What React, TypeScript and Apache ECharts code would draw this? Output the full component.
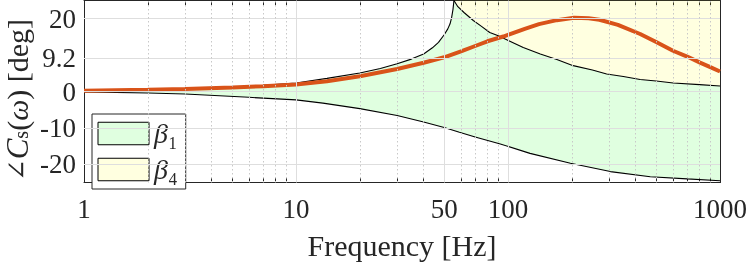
import React, { useEffect, useRef } from 'react';
import * as echarts from 'echarts';

// ---- data ----
const xTickLabels = [1, 10, 50, 100, 1000];
const xMajorGrid = [10, 50, 100];
const xMinorGrid = [2, 3, 4, 5, 6, 7, 8, 9, 20, 30, 40, 60, 70, 80, 90, 200, 300, 400, 500, 600, 700, 800, 900];
const xAllTicks = [1, 2, 3, 4, 5, 6, 7, 8, 9, 10, 20, 30, 40, 50, 60, 70, 80, 90, 100, 200, 300, 400, 500, 600, 700, 800, 900, 1000];
const yTickValues = [-20, -10, 0, 9.2, 20];
const Y_MIN = -25;
const Y_MAX = 25;
const legendNames = ['β₁', 'β₄'];

// orange phase curve
const freqOrange = [1, 2, 3, 5, 7, 10, 14, 20, 30, 40, 50, 60, 70, 80, 95, 120, 140, 170, 205, 240, 270, 330, 420, 500, 600, 700, 800, 900, 1000];
const phaseOrange = [0.2, 0.45, 0.7, 1.1, 1.45, 1.9, 2.8, 4.2, 6.2, 7.9, 9.4, 11.0, 12.5, 13.8, 15.1, 17.2, 18.5, 19.6, 20.25, 20.1, 19.7, 18.3, 15.8, 13.6, 11.2, 9.6, 8.0, 6.7, 5.5];

// beta1 upper bound (up to the singularity)
const freqUpper = [1, 2, 3, 5, 7, 10, 14, 20, 25, 30, 35, 40, 44, 47, 50, 52, 53.3, 54.2, 55.0, 55.6];
const phaseUpper = [0.1, 0.45, 0.75, 1.25, 1.7, 2.35, 3.6, 5.1, 6.3, 7.6, 8.9, 10.3, 12.0, 13.5, 15.6, 17.2, 18.6, 20.3, 22.5, 25];

// beta1 lower bound
const freqLower = [1, 2, 3, 6, 10, 13.4, 20, 30, 40, 50, 59, 70, 92, 127, 197, 304, 469, 700, 1000];
const phaseLower = [-0.1, -0.4, -0.7, -1.6, -2.3, -3.2, -4.7, -6.6, -8.4, -9.9, -11.2, -12.5, -14.4, -17.0, -19.7, -22.0, -23.4, -24.0, -24.5];

// boundary between beta1 and beta4 (after the singularity)
const freqDesc = [55.6, 58, 62, 68.6, 75, 82, 90, 97, 118, 142, 170, 203, 250, 292, 350, 420, 500, 602, 800, 1000];
const phaseDesc = [25, 23.3, 21.7, 19.5, 17.9, 16.2, 15.3, 14.4, 12.1, 10.3, 8.8, 7.1, 5.9, 4.8, 4.1, 3.3, 2.9, 2.35, 1.9, 1.5];

const zip = (f: number[], p: number[]) => f.map((x, i) => [x, p[i]]);

const SERIF = '"Liberation Serif", "Times New Roman", "DejaVu Serif", serif';
const AX = '#262626';

export default function App() {
  const ref = useRef<HTMLDivElement>(null);

  useEffect(() => {
    if (!ref.current) return;
    const chart = echarts.init(ref.current, null, { renderer: 'svg' });

    const upper = zip(freqUpper, phaseUpper);
    const lower = zip(freqLower, phaseLower);
    const desc = zip(freqDesc, phaseDesc);
    const orange = zip(freqOrange, phaseOrange);

    const greenPoly = [...lower, ...desc.slice().reverse(), ...upper.slice().reverse()];
    const yellowPoly = [...desc, [freqDesc[freqDesc.length - 1], Y_MAX], [freqDesc[0], Y_MAX]];

    const polySeries = (name: string, poly: number[][], fill: string) => ({
      name,
      type: 'custom',
      z: 1,
      silent: true,
      itemStyle: { color: fill },
      data: [[poly[0][0], poly[0][1]]],
      encode: { x: 0, y: 1 },
      renderItem: (_p: any, api: any) => ({
        type: 'polygon',
        shape: { points: poly.map((pt) => api.coord(pt)) },
        style: { fill, stroke: 'none' },
        silent: true,
      }),
    });

    const majorStyle = { color: '#dedede', width: 1, type: 'solid' };
    const minorStyle = { color: '#c8c8c8', width: 1, type: [1.5, 2.5] };

    const gridLines = [
      ...yTickValues.map((v) => ({ yAxis: v, lineStyle: majorStyle })),
      ...xMajorGrid.map((v) => ({ xAxis: v, lineStyle: majorStyle })),
      ...xMinorGrid.map((v) => ({ xAxis: v, lineStyle: minorStyle })),
    ];

    const blackLine = (data: number[][]) => ({
      type: 'line',
      z: 2,
      silent: true,
      showSymbol: false,
      symbol: 'none',
      smooth: false,
      data,
      lineStyle: { color: '#000', width: 1.1 },
    });

    const axisLine = { show: true, onZero: false, lineStyle: { color: AX, width: 1 } };

    chart.setOption({
      animation: false,
      grid: { left: 84, right: 27, top: 0.5, bottom: 79.5, containLabel: false, outerBoundsMode: 'none' },
      xAxis: [
        {
          type: 'log',
          logBase: 10,
          min: 1,
          max: 1000,
          position: 'bottom',
          axisLine,
          axisTick: { show: true, inside: true, length: 5, customValues: xAllTicks, lineStyle: { color: AX } },
          axisLabel: {
            show: true,
            customValues: xTickLabels,
            margin: 13,
            fontSize: 27,
            fontFamily: SERIF,
            color: AX,
            formatter: (v: number) => String(Math.round(v)),
          },
          splitLine: { show: false },
          minorTick: { show: false },
          name: 'Frequency [Hz]',
          nameLocation: 'middle',
          nameGap: 48,
          nameTextStyle: { fontSize: 30, fontFamily: SERIF, color: AX },
        },
        {
          type: 'log',
          logBase: 10,
          min: 1,
          max: 1000,
          position: 'top',
          axisLine,
          axisTick: { show: true, inside: true, length: 5, customValues: xAllTicks, lineStyle: { color: AX } },
          axisLabel: { show: false },
          splitLine: { show: false },
        },
      ],
      yAxis: [
        {
          type: 'value',
          min: Y_MIN,
          max: Y_MAX,
          position: 'left',
          axisLine,
          axisTick: { show: true, inside: true, length: 6, customValues: yTickValues, lineStyle: { color: AX } },
          axisLabel: { show: true, customValues: yTickValues, margin: 8, fontSize: 27, fontFamily: SERIF, color: AX },
          splitLine: { show: false },
        },
        {
          type: 'value',
          min: Y_MIN,
          max: Y_MAX,
          position: 'right',
          axisLine,
          axisTick: { show: true, inside: true, length: 6, customValues: yTickValues, lineStyle: { color: AX } },
          axisLabel: { show: false },
          splitLine: { show: false },
        },
      ],
      legend: {
        left: 92,
        top: 114,
        orient: 'vertical',
        padding: [5.5, 8, 5.5, 5.5],
        itemGap: 8,
        itemWidth: 51,
        itemHeight: 22.5,
        borderColor: AX,
        borderWidth: 1,
        backgroundColor: '#fff',
        selectedMode: false,
        data: legendNames.map((name) => ({ name, icon: 'rect' })),
        itemStyle: { borderColor: '#000', borderWidth: 1 },
        formatter: (name: string) => `{b|${name.slice(0, 1)}}{s|${name.slice(1)}}`,
        textStyle: {
          rich: {
            b: { fontSize: 28, fontStyle: 'italic', fontFamily: SERIF, color: AX, lineHeight: 22 },
            s: { fontSize: 28, fontFamily: SERIF, color: AX, lineHeight: 22 },
          },
        },
      },
      graphic: [
        {
          type: 'text',
          x: 17,
          y: 100,
          rotation: Math.PI / 2,
          silent: true,
          style: {
            text: '{a|∠}{c|C}{s|s}{p|(}{w|ω}{p|) [deg]}',
            align: 'center',
            verticalAlign: 'middle',
            rich: {
              a: { fontSize: 26, fontFamily: SERIF, fill: AX, lineHeight: 32 },
              c: { fontSize: 31, fontFamily: SERIF, fontStyle: 'italic', fill: AX, lineHeight: 32 },
              s: { fontSize: 20, fontFamily: SERIF, fill: AX, lineHeight: 32, padding: [8, 0, 0, 0] },
              p: { fontSize: 30, fontFamily: SERIF, fill: AX, lineHeight: 32 },
              w: { fontSize: 30, fontFamily: SERIF, fontStyle: 'italic', fill: AX, lineHeight: 32 },
            },
          },
        },
      ],
      series: [
        {
          type: 'line',
          data: [],
          z: 0,
          silent: true,
          markLine: {
            silent: true,
            symbol: ['none', 'none'],
            label: { show: false },
            animation: false,
            data: gridLines,
          },
        },
        polySeries(legendNames[0], greenPoly, 'rgba(0,255,0,0.12)'),
        polySeries(legendNames[1], yellowPoly, 'rgba(255,255,0,0.12)'),
        blackLine(upper),
        blackLine(lower),
        blackLine(desc),
        {
          type: 'line',
          z: 3,
          silent: true,
          showSymbol: false,
          symbol: 'none',
          smooth: false,
          data: orange,
          lineStyle: { color: '#D95319', width: 4 },
        },
      ],
    });

    return () => chart.dispose();
  }, []);

  return <div ref={ref} style={{ position: 'fixed', left: 0, top: 0, width: 747, height: 262 }} />;
}
